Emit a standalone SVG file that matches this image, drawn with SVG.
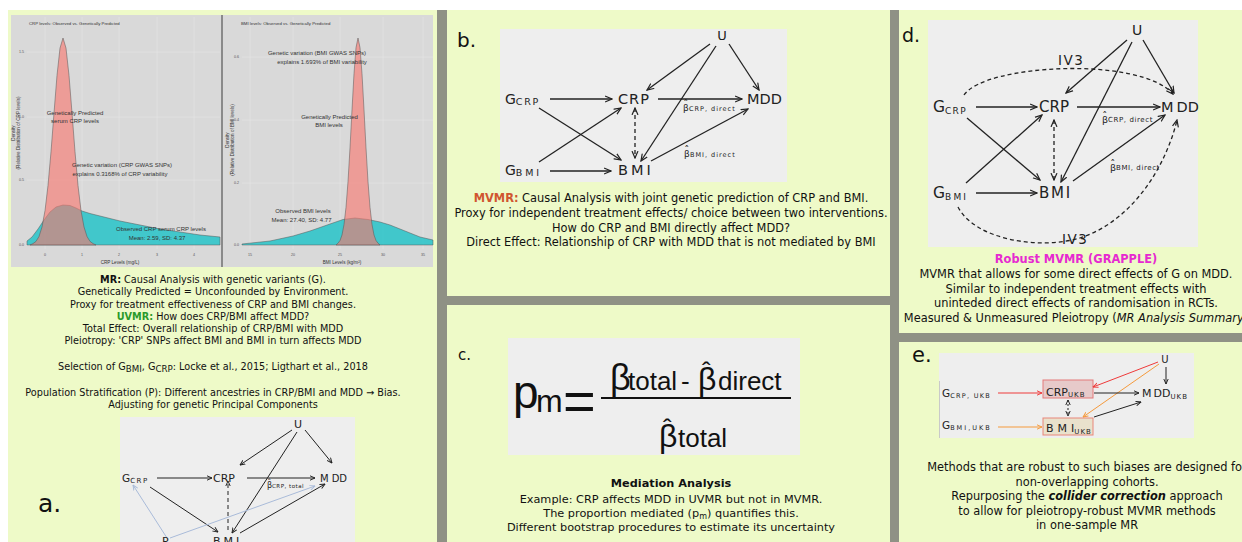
<svg xmlns="http://www.w3.org/2000/svg" width="1242" height="542" viewBox="0 0 1242 542">
<defs>
<style>
.pnl{fill:#eefac8}
.sep{fill:#8f9185}
.box{fill:#eeeeee}
.t{font-family:"DejaVu Sans",Verdana,sans-serif;fill:#111}
.tc{text-anchor:middle}
.pl{font-family:"Liberation Sans",Arial,sans-serif;fill:#333}
.ax{font-family:"Liberation Sans",Arial,sans-serif;fill:#555;font-size:3.6px}
.nd{font-family:"DejaVu Sans",Verdana,sans-serif;fill:#222}
.fm{font-family:"Liberation Sans",Arial,sans-serif;fill:#111}
.ed{fill:none;stroke:#222;stroke-width:1.3}
.eds{fill:none;stroke:#222;stroke-width:1}
.dash{stroke-dasharray:4 3}
.grid{stroke:#e6e6e6;stroke-width:0.6}
.red{fill:#f8766d;fill-opacity:0.62;stroke:#555;stroke-width:0.5}
.teal{fill:#00bfc4;fill-opacity:0.7;stroke:#555;stroke-width:0.5}
</style>
<marker id="mb" viewBox="0 0 10 10" refX="9" refY="5" markerWidth="8" markerHeight="8" markerUnits="userSpaceOnUse" orient="auto-start-reverse"><path d="M1,1.5 L9,5 L1,8.5" fill="none" stroke="#222" stroke-width="1.5" stroke-linecap="round"/></marker>
<marker id="ms" viewBox="0 0 10 10" refX="9" refY="5" markerWidth="6" markerHeight="6" markerUnits="userSpaceOnUse" orient="auto-start-reverse"><path d="M1,1.5 L9,5 L1,8.5" fill="none" stroke="#222" stroke-width="1.6" stroke-linecap="round"/></marker>
<marker id="mr" viewBox="0 0 10 10" refX="9" refY="5" markerWidth="6" markerHeight="6" markerUnits="userSpaceOnUse" orient="auto"><path d="M1,1.5 L9,5 L1,8.5" fill="none" stroke="#ee3a3a" stroke-width="1.6" stroke-linecap="round"/></marker>
<marker id="mo" viewBox="0 0 10 10" refX="9" refY="5" markerWidth="6" markerHeight="6" markerUnits="userSpaceOnUse" orient="auto"><path d="M1,1.5 L9,5 L1,8.5" fill="none" stroke="#f59a3c" stroke-width="1.6" stroke-linecap="round"/></marker>
<marker id="ml" viewBox="0 0 10 10" refX="9" refY="5" markerWidth="6" markerHeight="6" markerUnits="userSpaceOnUse" orient="auto"><path d="M1,1.5 L9,5 L1,8.5" fill="none" stroke="#a9bbd9" stroke-width="1.6" stroke-linecap="round"/></marker>
</defs>

<rect width="1242" height="542" fill="#ffffff"/>
<g id="panels">
<rect class="pnl" x="8" y="10" width="429" height="532"/>
<rect class="sep" x="437" y="10" width="10" height="532"/>
<rect class="pnl" x="447" y="10" width="443" height="286"/>
<rect class="sep" x="447" y="296" width="443" height="9"/>
<rect class="pnl" x="447" y="305" width="443" height="237"/>
<rect class="sep" x="890" y="10" width="9" height="532"/>
<rect class="pnl" x="899" y="10" width="343" height="323"/>
<rect class="sep" x="899" y="333" width="343" height="9"/>
<rect class="pnl" x="899" y="342" width="343" height="200"/>
</g>

<!-- Panel a: density plots -->
<g id="plot-a">
<rect x="11" y="15" width="422" height="252" fill="#d9d9d9"/>
<g class="grid">
<path d="M45,17V249M82,17V249M119,17V249M157,17V249M194,17V249M27,245H220M27,180H220M27,117H220M27,52H220"/>
<path d="M250,17V249M293,17V249M340,17V249M383,17V249M423,17V249M242,245H433M242,183H433M242,120H433M242,57H433"/>
</g>
<line x1="222" y1="15" x2="222" y2="267" stroke="#555" stroke-width="1.2"/>
<path class="teal" d="M27,245 L27,241 L32,237 L38,229 L44,220 L50,212 L56,207 L63,205 L70,205.5 L76,208 L82,211 L90,213.5 L100,216 L120,221 L140,225 L160,229 L180,232 L200,235 L220,237 L220,245 Z"/>
<path class="red" d="M30,245 L33,243.6 L36,241.4 L39,236.5 L42,227 L45,210.6 L48,185.5 L51,151.8 L54,112.9 L57,75.4 L60,48.1 L63,38 L66,48.1 L69,75.4 L72,112.9 L75,151.8 L78,185.5 L81,210.6 L84,227 L87,236.5 L90,241.4 L93,243.6 L96,245 Z"/>
<path class="teal" d="M242,245 L242,244 L270,241 L293,236 L310,231 L330,224 L343,219.5 L355,218 L368,219.5 L380,222 L390,225 L400,229 L410,233 L420,237 L433,240 L433,245 Z"/>
<path class="red" d="M336,245 L338,243.2 L340,240.5 L342,235 L344,224.6 L346,207.3 L348,181.6 L350,147.9 L352,109.8 L354,73.7 L356,47.6 L358,38 L360,47.6 L362,73.7 L364,109.8 L366,147.9 L368,181.6 L370,207.3 L372,224.6 L374,235 L376,240.5 L378,243.2 L380,245 Z"/>
<text class="pl" x="29" y="25" font-size="4.3">CRP levels: Observed vs. Genetically Predicted</text>
<text class="pl" x="241" y="25" font-size="4.3">BMI levels: Observed vs. Genetically Predicted</text>
<g class="ax" text-anchor="end">
<text x="24" y="246.3">0.0</text><text x="24" y="181.3">0.5</text><text x="24" y="118.3">1.0</text><text x="24" y="53.3">1.5</text>
<text x="239" y="246.3">0.0</text><text x="239" y="184.3">0.2</text><text x="239" y="121.3">0.4</text><text x="239" y="58.3">0.6</text>
</g>
<g class="ax" text-anchor="middle">
<text x="45" y="256">0</text><text x="82" y="256">1</text><text x="119" y="256">2</text><text x="157" y="256">3</text><text x="194" y="256">4</text>
<text x="250" y="256">15</text><text x="293" y="256">20</text><text x="340" y="256">25</text><text x="383" y="256">30</text><text x="423" y="256">35</text>
</g>
<g class="pl" font-size="4.6" text-anchor="middle">
<text x="120" y="264">CRP Levels (mg/L)</text>
<text x="342" y="264">BMI Levels (kg/m²)</text>
<text transform="translate(14.5,133) rotate(-90)">Density</text>
<text transform="translate(19.5,133) rotate(-90)">(Relative Distribution of CRP levels)</text>
<text transform="translate(229,140) rotate(-90)">Density</text>
<text transform="translate(234,140) rotate(-90)">(Relative Distribution of BMI levels)</text>
</g>
<g class="pl" font-size="6" text-anchor="middle">
<text x="75" y="115">Genetically Predicted</text>
<text x="75" y="123">serum CRP levels</text>
<text x="122" y="166.5">Genetic variation (CRP GWAS SNPs)</text>
<text x="120" y="175.5">explains 0.3168% of CRP variability</text>
<text x="161" y="230.5">Observed CRP serum CRP levels</text>
<text x="157" y="239.5">Mean: 2.59, SD: 4.37</text>
<text x="317" y="55">Genetic variation (BMI GWAS SNPs)</text>
<text x="322" y="64">explains 1.693% of BMI variability</text>
<text x="329.5" y="118.5">Genetically Predicted</text>
<text x="329" y="126.5">BMI levels</text>
<text x="303" y="212.5">Observed BMI levels</text>
<text x="301.5" y="221.5">Mean: 27.40, SD: 4.77</text>
</g>
</g>

<g id="text-a" class="t tc" font-size="9.7">
<text x="213" y="283"><tspan font-weight="bold">MR:</tspan> Causal Analysis with genetic variants (G).</text>
<text x="213" y="295.3">Genetically Predicted = Unconfounded by Environment.</text>
<text x="213" y="307.5">Proxy for treatment effectiveness of CRP and BMI changes.</text>
<text x="213" y="319.5"><tspan font-weight="bold" fill="#2a9a2a">UVMR:</tspan> How does CRP/BMI affect MDD?</text>
<text x="213" y="332">Total Effect: Overall relationship of CRP/BMI with MDD</text>
<text x="213" y="344.3">Pleiotropy: 'CRP' SNPs affect BMI and BMI in turn affects MDD</text>
<text x="213" y="369.5">Selection of G<tspan font-size="8.7" dy="2">BMI</tspan><tspan dy="-2">, G</tspan><tspan font-size="8.7" dy="2">CRP</tspan><tspan dy="-2">: Locke et al., 2015; Ligthart et al., 2018</tspan></text>
<text x="213" y="395.5">Population Stratification (P): Different ancestries in CRP/BMI and MDD → Bias.</text>
<text x="213" y="408">Adjusting for genetic Principal Components</text>
</g>

<text id="label-a" class="t" x="38" y="512" font-size="25">a.</text>
<rect id="box-a" class="box" x="120" y="417" width="235" height="125"/>
<g id="edges-a">
<path class="eds" marker-end="url(#ms)" d="M157,478 L212,478"/>
<path class="eds" marker-end="url(#ms)" d="M247,478 L315,478"/>
<path class="eds" marker-end="url(#ms)" d="M292,430 L240,465"/>
<path class="eds" marker-end="url(#ms)" d="M305,430 L332,463"/>
<path class="eds" marker-end="url(#ms)" d="M297,432 L232,533"/>
<path class="eds" marker-end="url(#ms)" d="M150,487 L218,532"/>
<path class="eds" marker-end="url(#ms)" d="M240,533 L325,484"/>
<path class="eds dash" marker-end="url(#ms)" d="M228,530 L228,481"/>
<path fill="none" stroke="#a9bbd9" stroke-width="1" marker-end="url(#ml)" d="M167,538 L133,485"/>
<path fill="none" stroke="#a9bbd9" stroke-width="1" marker-end="url(#ml)" d="M170,538 L315,486"/>
<text class="nd" x="267" y="488" font-size="8">β</text>
<text class="nd" x="267.3" y="485.5" font-size="8">ˆ</text>
<text class="nd" x="272" y="488" font-size="5.5" letter-spacing="0.5">CRP, total</text>
</g>
<g id="a-U"><text class="nd" x="298" y="428" font-size="11" text-anchor="middle">U</text></g>
<g id="a-GCRP"><text class="nd" x="122" y="482" font-size="10.5">G<tspan font-size="7" dy="1" letter-spacing="1.5">CRP</tspan></text></g>
<g id="a-CRP"><text class="nd" x="213" y="482" font-size="11">CRP</text></g>
<g id="a-MDD"><text class="nd" x="320" y="482" font-size="10">M<tspan dx="3">DD</tspan></text></g>
<g id="a-P"><text class="nd" x="162" y="545" font-size="11">P</text></g>
<g id="a-BMI"><text class="nd" x="213" y="545" font-size="11" letter-spacing="3">BMI</text></g>

<!-- Panel b -->
<text id="label-b" class="t" x="457" y="47" font-size="20">b.</text>
<rect id="box-b" class="box" x="500" y="29" width="287" height="153"/>
<g id="edges-b">
<path class="ed" marker-end="url(#mb)" d="M550,99 L612,99"/>
<path class="ed" marker-end="url(#mb)" d="M658,99 L742,99"/>
<path class="ed" marker-end="url(#mb)" d="M710,44 L647,90"/>
<path class="ed" marker-end="url(#mb)" d="M729,44 L759,90"/>
<path class="ed" marker-end="url(#mb)" d="M716,46 L641,161"/>
<path class="ed" marker-end="url(#mb)" d="M539,108 L621,160"/>
<path class="ed" marker-end="url(#mb)" d="M539,162 L621,108"/>
<path class="ed" marker-end="url(#mb)" d="M550,171 L611,171"/>
<path class="ed" marker-end="url(#mb)" d="M651,161 L748,109"/>
<path class="ed dash" marker-start="url(#mb)" marker-end="url(#mb)" d="M635,108 L635,158"/>
<text class="nd" x="683" y="111" font-size="9">β</text>
<text class="nd" x="683.3" y="108" font-size="10">ˆ</text>
<text class="nd" x="689" y="111" font-size="6.5" letter-spacing="1">CRP, direct</text>
<text class="nd" x="684" y="157" font-size="9">β</text>
<text class="nd" x="684.3" y="154" font-size="10">ˆ</text>
<text class="nd" x="690" y="157" font-size="6.5" letter-spacing="1">BMI, direct</text>
</g>
<g id="b-U"><text class="nd" x="722" y="40" font-size="13" text-anchor="middle">U</text></g>
<g id="b-GCRP"><text class="nd" x="505" y="104" font-size="14">G<tspan font-size="9.5" dy="1" letter-spacing="1.7">CRP</tspan></text></g>
<g id="b-CRP"><text class="nd" x="618" y="104" font-size="14.5" letter-spacing="1">CRP</text></g>
<g id="b-MDD"><text class="nd" x="747" y="104" font-size="14.5">MDD</text></g>
<g id="b-GBMI"><text class="nd" x="505" y="175" font-size="14">G<tspan font-size="9.5" dy="1" letter-spacing="2.8">BMI</tspan></text></g>
<g id="b-BMI"><text class="nd" x="618" y="175" font-size="14.5" letter-spacing="3">BMI</text></g>
<g id="text-b" class="t tc" font-size="11.4">
<text x="671" y="202.3"><tspan font-weight="bold" fill="#d05530">MVMR:</tspan> Causal Analysis with joint genetic prediction of CRP and BMI.</text>
<text x="671" y="216.7">Proxy for independent treatment effects/ choice between two interventions.</text>
<text x="671" y="231.7">How do CRP and BMI directly affect MDD?</text>
<text x="671" y="246">Direct Effect: Relationship of CRP with MDD that is not mediated by BMI</text>
</g>

<!-- Panel c -->
<text id="label-c" class="t" x="458" y="360" font-size="15">c.</text>
<g id="formula-c">
<rect class="box" x="508" y="338" width="292" height="117"/>
<text class="fm" x="513" y="408" font-size="46">p</text>
<text class="fm" x="536" y="412" font-size="32">m</text>
<text class="fm" x="563" y="420" font-size="56">=</text>
<line x1="601" y1="398" x2="791" y2="398" stroke="#111" stroke-width="2.2"/>
<text class="fm" x="610" y="390" font-size="36">β</text>
<text class="fm" x="628" y="390" font-size="26">total</text>
<text class="fm" x="681" y="390" font-size="26">-</text>
<text class="fm" x="698" y="390" font-size="32">β</text>
<text class="fm" x="702" y="380" font-size="26">ˆ</text>
<text class="fm" x="718" y="390" font-size="26">direct</text>
<text class="fm" x="659" y="447" font-size="32">β</text>
<text class="fm" x="663" y="437" font-size="26">ˆ</text>
<text class="fm" x="678" y="447" font-size="26">total</text>
</g>
<g id="text-c" class="t tc" font-size="11.3">
<text x="671" y="486.7" font-weight="bold">Mediation Analysis</text>
<text x="671" y="502.7">Example: CRP affects MDD in UVMR but not in MVMR.</text>
<text x="671" y="516.7">The proportion mediated (p<tspan font-size="8" dy="2">m</tspan><tspan dy="-2">) quantifies this.</tspan></text>
<text x="671" y="531">Different bootstrap procedures to estimate its uncertainty</text>
</g>

<!-- Panel d -->
<text id="label-d" class="t" x="902" y="42" font-size="19">d.</text>
<rect id="box-d" class="box" x="928" y="20" width="270" height="227"/>
<g id="edges-d">
<path class="ed" marker-end="url(#mb)" d="M976,107 L1037,107"/>
<path class="ed" marker-end="url(#mb)" d="M1077,107 L1160,107"/>
<path class="ed" marker-end="url(#mb)" d="M1127,40 L1066,93"/>
<path class="ed" marker-end="url(#mb)" d="M1143,40 L1174,93"/>
<path class="ed" marker-end="url(#mb)" d="M1132,42 L1061,182"/>
<path class="ed" marker-end="url(#mb)" d="M967,118 L1040,180"/>
<path class="ed" marker-end="url(#mb)" d="M966,183 L1042,115"/>
<path class="ed" marker-end="url(#mb)" d="M976,193 L1037,193"/>
<path class="ed" marker-end="url(#mb)" d="M1073,181 L1165,115"/>
<path class="ed dash" marker-start="url(#mb)" marker-end="url(#mb)" d="M1054,120 L1054,180"/>
<path class="ed dash" marker-end="url(#mb)" d="M964,95 C985,64 1140,56 1173,94"/>
<path class="ed dash" marker-end="url(#mb)" d="M958,207 C975,240 1040,250 1080,238 C1130,222 1165,170 1177,120"/>
<text class="nd" x="1058" y="65" font-size="13.5" letter-spacing="1.5">IV3</text>
<text class="nd" x="1062" y="244" font-size="13.5" letter-spacing="1.5">IV3</text>
<text class="nd" x="1102" y="123" font-size="9.5">β</text>
<text class="nd" x="1102.3" y="120" font-size="10">ˆ</text>
<text class="nd" x="1108" y="122" font-size="7" letter-spacing="0.6">CRP, direct</text>
<text class="nd" x="1110" y="171" font-size="9.5">β</text>
<text class="nd" x="1110.3" y="168" font-size="10">ˆ</text>
<text class="nd" x="1116" y="170" font-size="7" letter-spacing="0.6">BMI, direct</text>
</g>
<g id="d-U"><text class="nd" x="1137" y="35" font-size="14" text-anchor="middle">U</text></g>
<g id="d-GCRP"><text class="nd" x="933" y="112" font-size="15.5">G<tspan font-size="9" dy="1.5" letter-spacing="1.3">CRP</tspan></text></g>
<g id="d-CRP"><text class="nd" x="1039" y="112" font-size="15">CRP</text></g>
<g id="d-MDD"><text class="nd" x="1161" y="112" font-size="14.5">M<tspan dx="3">DD</tspan></text></g>
<g id="d-GBMI"><text class="nd" x="933" y="198" font-size="15.5">G<tspan font-size="9" dy="1.5" letter-spacing="2.2">BMI</tspan></text></g>
<g id="d-BMI"><text class="nd" x="1039" y="198" font-size="15" letter-spacing="1.8">BMI</text></g>
<g id="text-d" class="t tc" font-size="11.4">
<text x="1076" y="263.3" font-weight="bold" fill="#e62ad0">Robust MVMR (GRAPPLE)</text>
<text x="1076" y="278.3">MVMR that allows for some direct effects of G on MDD.</text>
<text x="1076" y="293.3">Similar to independent treatment effects with</text>
<text x="1076" y="307.3">uninteded direct effects of randomisation in RCTs.</text>
<text x="1076" y="321.7">Measured &amp; Unmeasured Pleiotropy (<tspan font-style="italic">MR Analysis Summary</tspan>)</text>
</g>

<!-- Panel e -->
<text id="label-e" class="t" x="912" y="362" font-size="21">e.</text>
<rect id="box-e" class="box" x="939" y="353" width="255" height="85"/>
<line x1="939.5" y1="381" x2="939.5" y2="438" stroke="#c9c9c9" stroke-width="1"/>
<g id="e-CRP"><rect x="1043" y="380" width="50" height="18" fill="#e7caca" stroke="#e47a7a" stroke-width="1"/><text class="nd" x="1046" y="395.5" font-size="11">CRP<tspan font-size="7" dy="1.5" letter-spacing="1">UKB</tspan></text></g>
<g id="e-BMI"><rect x="1043" y="418" width="50" height="17" fill="#e9e1cc" stroke="#e8867a" stroke-width="1"/><text class="nd" x="1046" y="432" font-size="11"><tspan letter-spacing="4">BM</tspan>I<tspan font-size="7" dy="1.5" letter-spacing="1">UKB</tspan></text></g>
<g id="edges-e">
<path fill="none" stroke="#ee3a3a" stroke-width="1" marker-end="url(#mr)" d="M998,393 L1042,393"/>
<path fill="none" stroke="#ee3a3a" stroke-width="1" marker-end="url(#mr)" d="M1158,362 L1093,387"/>
<path fill="none" stroke="#f59a3c" stroke-width="1" marker-end="url(#mo)" d="M998,427 L1042,427"/>
<path fill="none" stroke="#f59a3c" stroke-width="1" marker-end="url(#mo)" d="M1159,364 L1083,417"/>
<path class="eds" marker-end="url(#ms)" d="M1094,393 L1139,393"/>
<path class="eds" marker-end="url(#ms)" d="M1094,417 L1141,402"/>
<path class="eds" marker-end="url(#ms)" d="M1166,367 L1166,384"/>
<path class="eds" stroke-dasharray="2 2" marker-start="url(#ms)" marker-end="url(#ms)" d="M1068,400 L1068,416"/>
</g>
<g id="e-U"><text class="nd" x="1165" y="363" font-size="10" text-anchor="middle">U</text></g>
<g id="e-GCRP"><text class="nd" x="942" y="397" font-size="10.5">G<tspan font-size="6.5" dy="1" letter-spacing="1.3">CRP, UKB</tspan></text></g>
<g id="e-MDD"><text class="nd" x="1142" y="397" font-size="11">M<tspan dx="2">DD</tspan><tspan font-size="7" dy="1.5" letter-spacing="1">UKB</tspan></text></g>
<g id="e-GBMI"><text class="nd" x="942" y="429" font-size="10.5">G<tspan font-size="6.5" dy="1" letter-spacing="2">BMI,UKB</tspan></text></g>
<g id="text-e" class="t tc" font-size="11.4">
<text x="1087" y="470.7">Methods that are robust to such biases are designed for</text>
<text x="1087" y="486">non-overlapping cohorts.</text>
<text x="1087" y="500">Repurposing the <tspan font-weight="bold" font-style="italic">collider correction</tspan> approach</text>
<text x="1087" y="515">to allow for pleiotropy-robust MVMR methods</text>
<text x="1087" y="529.3">in one-sample MR</text>
</g>
</svg>
